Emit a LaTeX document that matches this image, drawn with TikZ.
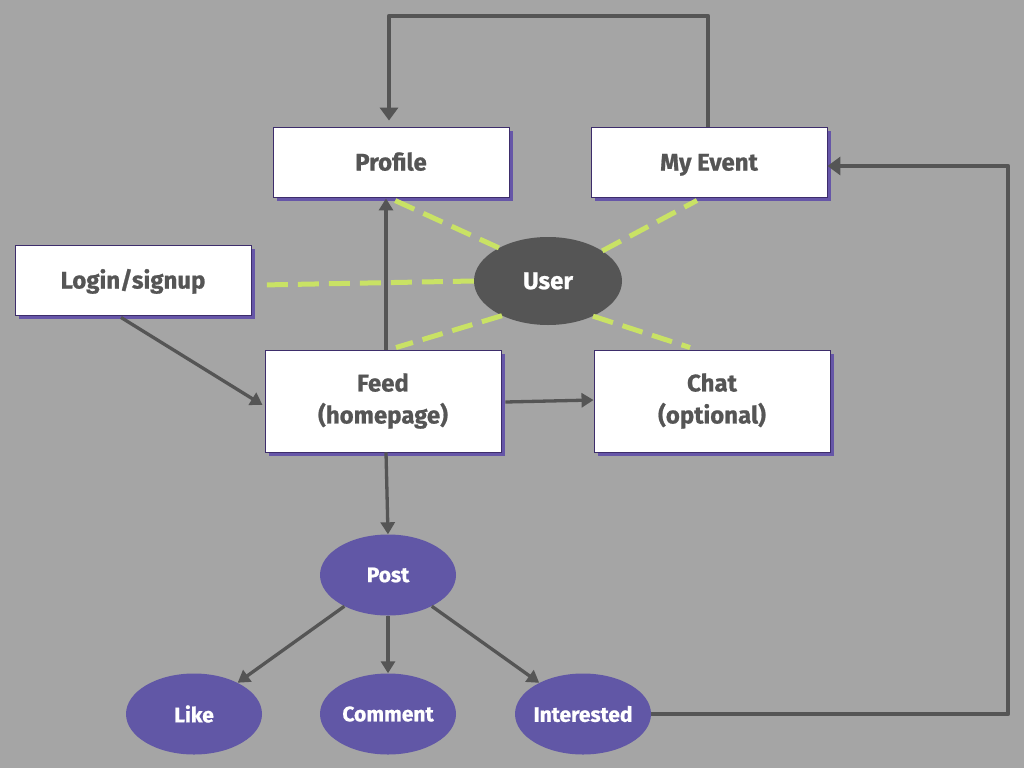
\documentclass[tikz,border=0pt]{standalone}
\usepackage{fontspec}
\setmainfont{Fira Sans}[BoldFeatures={FakeBold=0.8}]
\usetikzlibrary{arrows.meta,shapes.geometric,shadows,calc}
\definecolor{bgc}{HTML}{A5A5A5}
\definecolor{txt}{HTML}{555555}
\definecolor{boxborder}{HTML}{3D2D6B}
\definecolor{shadowc}{HTML}{6656A8}
\definecolor{purp}{HTML}{6157A6}
\definecolor{userc}{HTML}{555555}
\definecolor{dashc}{HTML}{C9E265}
\definecolor{arrowc}{HTML}{555555}
\newcommand\lblfont{\fontsize{24}{32}\selectfont\bfseries}
\newcommand\ovalfont{\fontsize{21}{28}\selectfont\bfseries}
\begin{document}
\begin{tikzpicture}[x=1pt,y=-1pt,
  box/.style={draw=boxborder, line width=0.9pt, fill=white, minimum width=236pt,
    minimum height=70pt, font=\lblfont, text=txt, align=center, inner sep=0pt,
    drop shadow={shadow xshift=4pt, shadow yshift=-4pt, fill=shadowc, opacity=1}},
  onebox/.style={box, text height=17pt, text depth=0pt},
  tallbox/.style={box, minimum height=102pt},
  oval/.style={ellipse, fill=purp, minimum width=136pt, minimum height=81pt,
    inner sep=0pt, inner xsep=-6pt, font=\ovalfont, text=white},
  useroval/.style={oval, fill=userc, minimum width=148pt, minimum height=88pt,
    font=\lblfont},
  conn/.style={draw=arrowc, line width=3.3pt, -{Triangle[length=12pt,width=14pt]}},
  loopconn/.style={draw=arrowc, line width=4.5pt, line join=round,
    -{Triangle[length=13pt,width=18pt]}},
  dashln/.style={draw=dashc, line width=5pt, dash pattern=on 21pt off 10pt}
]
\fill[bgc] (0,0) rectangle (1024,768);
\useasboundingbox (0,0) rectangle (1024,768);

\node[onebox] (profile) at (391,162) {Profile};
\node[onebox] (myevent) at (709,162) {My Event};
\node[onebox] (login) at (133,280) {Login/signup};
\node[tallbox] (feed) at (383,401) {Feed\\(homepage)};
\node[tallbox] (chat) at (712,401) {Chat\\(optional)};
\node[useroval] (user) at (548,281) {User};
\node[oval] (post) at (388,575) {Post};
\node[oval] (like) at (194,714) {Like};
\node[oval] (comment) at (388,714) {Comment};
\node[oval] (interested) at (583,714) {Interested};

\coordinate (c1) at (1008,716);
\coordinate (c3) at (1008,166);
\coordinate (c2) at (0,16);

% dashed links from User
\draw[dashln] (user.146) -- ($(profile.south)+(4,3)$);
\draw[dashln] (user.29) -- ($(myevent.south)+(-12,3)$);
\draw[dashln] (user.180) -- ($(login.east)+(10,5)$);
\draw[dashln] (user.217) -- ($(feed.north)+(13,-2)$);
\draw[dashln] (user.322) -- ($(chat.north)+(-22,-2)$);

% solid connectors
\draw[conn] ($(login.south)+(-12,2)$) -- ($(feed.west)+(-2,4)$);
\draw[conn] ($(feed.north)+(3,0)$) -- ($(feed.north |- profile.south)+(3,1)$);
\draw[conn] ($(feed.east)+(4,1)$) -- ($(chat.west)+(0,-1)$);
\draw[conn] ($(feed.south)+(3,0)$) -- (post.north);
\draw[conn] (post) -- (like);
\draw[conn] (post.south) -- (comment.north);
\draw[conn] (post) -- (interested);
\draw[loopconn] (interested.east) -- (interested.east -| c1) -- (c3)
  -- (c3 -| myevent.east);
\draw[loopconn] ($(myevent.north)+(-1,0)$) -- ($(myevent.north |- c2)+(-1,0)$)
  -- ($(profile.north |- c2)+(-2,0)$) -- ($(profile.north)+(-2,-6)$);
\end{tikzpicture}
\end{document}
